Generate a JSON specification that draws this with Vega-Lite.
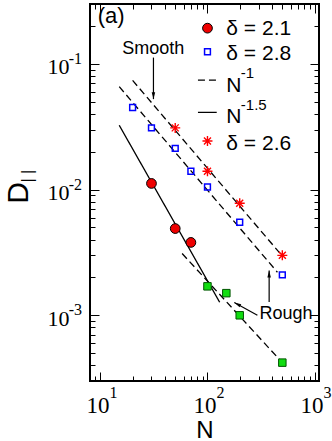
{
  "$schema": "https://vega.github.io/schema/vega-lite/v6.json",
  "width": 229,
  "height": 377,
  "autosize": {"type": "none"},
  "padding": {"left": 90, "top": 4, "right": 13, "bottom": 60},
  "background": "white",
  "config": {"view": {"stroke": "black", "strokeWidth": 2}},
  "datasets": {
    "fits": [
      {"id": "A", "kind": "dash", "N": 20, "D": 0.074},
      {"id": "A", "kind": "dash", "N": 500, "D": 0.00296},
      {"id": "B", "kind": "dash", "N": 15, "D": 0.066},
      {"id": "B", "kind": "dash", "N": 450, "D": 0.0022},
      {"id": "C", "kind": "dash", "N": 58, "D": 0.0031},
      {"id": "C", "kind": "dash", "N": 500, "D": 0.00042},
      {"id": "S", "kind": "solid", "N": 15, "D": 0.0325},
      {"id": "S", "kind": "solid", "N": 130, "D": 0.00127},
      {"id": "LA", "kind": "dash", "N": 81.5, "D": 0.0743},
      {"id": "LA", "kind": "dash", "N": 122, "D": 0.0743},
      {"id": "LS", "kind": "solid", "N": 81.5, "D": 0.0412},
      {"id": "LS", "kind": "solid", "N": 122, "D": 0.0412}
    ],
    "points": [
      {"N": 30, "D": 0.0112, "series": "d21"},
      {"N": 50, "D": 0.0049, "series": "d21"},
      {"N": 70, "D": 0.0038, "series": "d21"},
      {"N": 20, "D": 0.045, "series": "d28"},
      {"N": 30, "D": 0.031, "series": "d28"},
      {"N": 50, "D": 0.0213, "series": "d28"},
      {"N": 70, "D": 0.014, "series": "d28"},
      {"N": 100, "D": 0.0105, "series": "d28"},
      {"N": 200, "D": 0.0055, "series": "d28"},
      {"N": 500, "D": 0.0021, "series": "d28"},
      {"N": 50, "D": 0.031, "series": "d26"},
      {"N": 100, "D": 0.014, "series": "d26"},
      {"N": 200, "D": 0.0078, "series": "d26"},
      {"N": 500, "D": 0.003, "series": "d26"},
      {"N": 100, "D": 0.0017, "series": "rough"},
      {"N": 150, "D": 0.0015, "series": "rough"},
      {"N": 200, "D": 0.001, "series": "rough"},
      {"N": 500, "D": 0.00042, "series": "rough"},
      {"N": 100, "D": 0.1927, "series": "d21"},
      {"N": 100, "D": 0.125, "series": "d28"},
      {"N": 100, "D": 0.0244, "series": "d26"}
    ],
    "arrows": [
      {"dir": "down", "N": 31.3, "D": 0.1124, "N2": 31.3, "D2": 0.0525},
      {"dir": "upleft", "N": 292.5, "D": 0.001, "N2": 178, "D2": 0.001265},
      {"dir": "up", "N": 376.6, "D": 0.001274, "N2": 376.6, "D2": 0.002275}
    ]
  },
  "resolve": {"axis": {"x": "independent", "y": "independent"}},
  "layer": [
    {
      "data": {"name": "fits"},
      "mark": {"type": "line", "color": "black", "strokeWidth": 1.3},
      "encoding": {
        "x": {"field": "N", "type": "quantitative",
          "scale": {"type": "log", "domain": [8, 1100], "nice": false},
          "axis": {"orient": "bottom",
            "values": [8, 9, 10, 20, 30, 40, 50, 60, 70, 80, 90, 100, 200, 300, 400, 500, 600, 700, 800, 900, 1000],
            "labelExpr": "abs(log(datum.value)/LN10 - round(log(datum.value)/LN10)) < 0.001 ? '10' : ''",
            "tickSize": {"condition": {"test": "abs(log(datum.value)/LN10 - round(log(datum.value)/LN10)) < 0.001", "value": -9}, "value": -5},
            "tickColor": "black", "tickWidth": 1, "domain": false, "grid": false,
            "labelFont": "Liberation Serif", "labelFontSize": 23, "labelColor": "black",
            "labelPadding": 22, "labelOffset": -3, "labelFlush": false, "labelOverlap": false, "labelBound": false,
            "title": "N", "titleFont": "Liberation Sans", "titleFontSize": 24, "titleFontWeight": "normal",
            "titleColor": "black", "titlePadding": -3}},
        "y": {"field": "D", "type": "quantitative",
          "scale": {"type": "log", "domain": [0.0003, 0.3], "nice": false},
          "axis": {"orient": "left",
            "values": [0.0003, 0.0004, 0.0005, 0.0006, 0.0007, 0.0008, 0.0009, 0.001, 0.002, 0.003, 0.004, 0.005, 0.006, 0.007, 0.008, 0.009, 0.01, 0.02, 0.03, 0.04, 0.05, 0.06, 0.07, 0.08, 0.09, 0.1, 0.2, 0.3],
            "labelExpr": "abs(log(datum.value)/LN10 - round(log(datum.value)/LN10)) < 0.001 ? '10' : ''",
            "tickSize": {"condition": {"test": "abs(log(datum.value)/LN10 - round(log(datum.value)/LN10)) < 0.001", "value": -9}, "value": -5},
            "tickColor": "black", "tickWidth": 1, "domain": false, "grid": false,
            "labelFont": "Liberation Serif", "labelFontSize": 22, "labelColor": "black",
            "labelPadding": 30, "labelOffset": 3, "labelFlush": false, "labelOverlap": false, "labelBound": false,
            "title": "D", "titleFont": "Liberation Sans", "titleFontSize": 30, "titleFontWeight": "normal",
            "titleColor": "black", "titlePadding": 14}},
        "detail": {"field": "id", "type": "nominal"},
        "strokeDash": {"field": "kind", "type": "nominal",
          "scale": {"domain": ["dash", "solid"], "range": [[7, 4], [1, 0]]}, "legend": null}
      }
    },
    {
      "data": {"name": "points"},
      "transform": [{"filter": "datum.series == 'rough'"}],
      "mark": {"type": "point", "shape": "square", "filled": true, "fill": "#11dd11", "stroke": "#005500", "strokeWidth": 1, "size": 56, "opacity": 1},
      "encoding": {
        "x": {"field": "N", "type": "quantitative",
          "scale": {"type": "log", "domain": [8, 1100], "nice": false},
          "axis": {"orient": "top",
            "values": [8, 9, 10, 20, 30, 40, 50, 60, 70, 80, 90, 100, 200, 300, 400, 500, 600, 700, 800, 900, 1000],
            "labels": false, "title": null,
            "tickSize": {"condition": {"test": "abs(log(datum.value)/LN10 - round(log(datum.value)/LN10)) < 0.001", "value": -9}, "value": -5},
            "tickColor": "black", "tickWidth": 1, "domain": false, "grid": false}},
        "y": {"field": "D", "type": "quantitative",
          "scale": {"type": "log", "domain": [0.0003, 0.3], "nice": false},
          "axis": {"orient": "right",
            "values": [0.0003, 0.0004, 0.0005, 0.0006, 0.0007, 0.0008, 0.0009, 0.001, 0.002, 0.003, 0.004, 0.005, 0.006, 0.007, 0.008, 0.009, 0.01, 0.02, 0.03, 0.04, 0.05, 0.06, 0.07, 0.08, 0.09, 0.1, 0.2, 0.3],
            "labels": false, "title": null,
            "tickSize": {"condition": {"test": "abs(log(datum.value)/LN10 - round(log(datum.value)/LN10)) < 0.001", "value": -9}, "value": -5},
            "tickColor": "black", "tickWidth": 1, "domain": false, "grid": false}}
      }
    },
    {
      "data": {"name": "points"},
      "transform": [{"filter": "datum.series == 'd28'"}],
      "mark": {"type": "point", "shape": "square", "filled": false, "stroke": "#0000ff", "strokeWidth": 1.5, "size": 34, "opacity": 1},
      "encoding": {
        "x": {"field": "N", "type": "quantitative", "scale": {"type": "log", "domain": [8, 1100], "nice": false}, "axis": null},
        "y": {"field": "D", "type": "quantitative", "scale": {"type": "log", "domain": [0.0003, 0.3], "nice": false}, "axis": null}
      }
    },
    {
      "data": {"name": "points"},
      "transform": [{"filter": "datum.series == 'd21'"}],
      "mark": {"type": "point", "shape": "circle", "filled": true, "fill": "#ee0000", "stroke": "black", "strokeWidth": 1, "size": 95, "opacity": 1},
      "encoding": {
        "x": {"field": "N", "type": "quantitative", "scale": {"type": "log", "domain": [8, 1100], "nice": false}, "axis": null},
        "y": {"field": "D", "type": "quantitative", "scale": {"type": "log", "domain": [0.0003, 0.3], "nice": false}, "axis": null}
      }
    },
    {
      "data": {"name": "points"},
      "transform": [{"filter": "datum.series == 'd26'"}],
      "mark": {"type": "point", "shape": "M-1,0L1,0M0,-1L0,1M-0.7,-0.7L0.7,0.7M-0.7,0.7L0.7,-0.7", "filled": false, "stroke": "#ff0000", "strokeWidth": 1.4, "size": 100, "opacity": 1},
      "encoding": {
        "x": {"field": "N", "type": "quantitative", "scale": {"type": "log", "domain": [8, 1100], "nice": false}, "axis": null},
        "y": {"field": "D", "type": "quantitative", "scale": {"type": "log", "domain": [0.0003, 0.3], "nice": false}, "axis": null}
      }
    },
    {
      "data": {"name": "arrows"},
      "mark": {"type": "rule", "color": "black", "strokeWidth": 1.2},
      "encoding": {
        "x": {"field": "N", "type": "quantitative", "scale": {"type": "log", "domain": [8, 1100], "nice": false}, "axis": null},
        "y": {"field": "D", "type": "quantitative", "scale": {"type": "log", "domain": [0.0003, 0.3], "nice": false}, "axis": null},
        "x2": {"field": "N2"},
        "y2": {"field": "D2"}
      }
    },
    {
      "data": {"name": "arrows"},
      "transform": [{"filter": "datum.dir == 'down'"}],
      "mark": {"type": "point", "shape": "M0,0L-0.45,1.8L0.45,1.8Z", "filled": true, "color": "black", "size": 60, "angle": 180, "opacity": 1},
      "encoding": {
        "x": {"field": "N2", "type": "quantitative", "scale": {"type": "log", "domain": [8, 1100], "nice": false}, "axis": null},
        "y": {"field": "D2", "type": "quantitative", "scale": {"type": "log", "domain": [0.0003, 0.3], "nice": false}, "axis": null}
      }
    },
    {
      "data": {"name": "arrows"},
      "transform": [{"filter": "datum.dir == 'up'"}],
      "mark": {"type": "point", "shape": "M0,0L-0.45,1.8L0.45,1.8Z", "filled": true, "color": "black", "size": 60, "angle": 0, "opacity": 1},
      "encoding": {
        "x": {"field": "N2", "type": "quantitative", "scale": {"type": "log", "domain": [8, 1100], "nice": false}, "axis": null},
        "y": {"field": "D2", "type": "quantitative", "scale": {"type": "log", "domain": [0.0003, 0.3], "nice": false}, "axis": null}
      }
    },
    {
      "data": {"name": "arrows"},
      "transform": [{"filter": "datum.dir == 'upleft'"}],
      "mark": {"type": "point", "shape": "M0,0L-0.45,1.8L0.45,1.8Z", "filled": true, "color": "black", "size": 60, "angle": 299, "opacity": 1},
      "encoding": {
        "x": {"field": "N2", "type": "quantitative", "scale": {"type": "log", "domain": [8, 1100], "nice": false}, "axis": null},
        "y": {"field": "D2", "type": "quantitative", "scale": {"type": "log", "domain": [0.0003, 0.3], "nice": false}, "axis": null}
      }
    },
    {
      "data": {"values": [{"N": 9.44, "D": 0.21, "t": "(a)"}]},
      "mark": {"type": "text", "font": "Liberation Sans", "fontSize": 22, "align": "left", "baseline": "alphabetic", "color": "black"},
      "encoding": {
        "x": {"field": "N", "type": "quantitative", "scale": {"type": "log", "domain": [8, 1100], "nice": false}, "axis": null},
        "y": {"field": "D", "type": "quantitative", "scale": {"type": "log", "domain": [0.0003, 0.3], "nice": false}, "axis": null},
        "text": {"field": "t"}
      }
    },
    {
      "data": {"values": [{"N": 31.2, "D": 0.1205, "t": "Smooth"}]},
      "mark": {"type": "text", "font": "Liberation Sans", "fontSize": 18, "align": "center", "baseline": "alphabetic", "color": "black"},
      "encoding": {
        "x": {"field": "N", "type": "quantitative", "scale": {"type": "log", "domain": [8, 1100], "nice": false}, "axis": null},
        "y": {"field": "D", "type": "quantitative", "scale": {"type": "log", "domain": [0.0003, 0.3], "nice": false}, "axis": null},
        "text": {"field": "t"}
      }
    },
    {
      "data": {"values": [{"N": 305.6, "D": 0.000929, "t": "Rough"}]},
      "mark": {"type": "text", "font": "Liberation Sans", "fontSize": 18, "align": "left", "baseline": "alphabetic", "color": "black"},
      "encoding": {
        "x": {"field": "N", "type": "quantitative", "scale": {"type": "log", "domain": [8, 1100], "nice": false}, "axis": null},
        "y": {"field": "D", "type": "quantitative", "scale": {"type": "log", "domain": [0.0003, 0.3], "nice": false}, "axis": null},
        "text": {"field": "t"}
      }
    },
    {
      "data": {"values": [
        {"N": 150, "D": 0.17, "t": "δ = 2.1"},
        {"N": 150, "D": 0.1077, "t": "δ = 2.8"},
        {"N": 150, "D": 0.0594, "t": "N"},
        {"N": 150, "D": 0.0337, "t": "N"},
        {"N": 150, "D": 0.0205, "t": "δ = 2.6"}
      ]},
      "mark": {"type": "text", "font": "Liberation Sans", "fontSize": 21, "align": "left", "baseline": "alphabetic", "color": "black"},
      "encoding": {
        "x": {"field": "N", "type": "quantitative", "scale": {"type": "log", "domain": [8, 1100], "nice": false}, "axis": null},
        "y": {"field": "D", "type": "quantitative", "scale": {"type": "log", "domain": [0.0003, 0.3], "nice": false}, "axis": null},
        "text": {"field": "t"}
      }
    },
    {
      "data": {"values": [
        {"N": 205, "D": 0.0776, "t": "-1"},
        {"N": 205, "D": 0.0434, "t": "-1.5"}
      ]},
      "mark": {"type": "text", "font": "Liberation Sans", "fontSize": 15, "align": "left", "baseline": "alphabetic", "color": "black"},
      "encoding": {
        "x": {"field": "N", "type": "quantitative", "scale": {"type": "log", "domain": [8, 1100], "nice": false}, "axis": null},
        "y": {"field": "D", "type": "quantitative", "scale": {"type": "log", "domain": [0.0003, 0.3], "nice": false}, "axis": null},
        "text": {"field": "t"}
      }
    },
    {
      "data": {"values": [{"N": 10, "t": "1"}, {"N": 100, "t": "2"}, {"N": 1000, "t": "3"}]},
      "mark": {"type": "text", "font": "Liberation Serif", "fontSize": 16, "align": "left", "baseline": "alphabetic", "color": "black", "dx": 9, "dy": 16.5},
      "encoding": {
        "x": {"field": "N", "type": "quantitative", "scale": {"type": "log", "domain": [8, 1100], "nice": false}, "axis": null},
        "y": {"datum": 0.0003, "type": "quantitative", "scale": {"type": "log", "domain": [0.0003, 0.3], "nice": false}, "axis": null},
        "text": {"field": "t"}
      }
    },
    {
      "data": {"values": [{"D": 0.1, "t": "-1"}, {"D": 0.01, "t": "-2"}, {"D": 0.001, "t": "-3"}]},
      "mark": {"type": "text", "font": "Liberation Serif", "fontSize": 16, "align": "right", "baseline": "alphabetic", "color": "black", "dx": -8, "dy": 0},
      "encoding": {
        "x": {"datum": 8, "type": "quantitative", "scale": {"type": "log", "domain": [8, 1100], "nice": false}, "axis": null},
        "y": {"field": "D", "type": "quantitative", "scale": {"type": "log", "domain": [0.0003, 0.3], "nice": false}, "axis": null},
        "text": {"field": "t"}
      }
    },
    {
      "data": {"values": [{"N": 2.1, "D": 0.0128, "t": "| |"}]},
      "mark": {"type": "text", "font": "Liberation Sans", "fontSize": 16, "align": "center", "baseline": "middle", "angle": 270, "color": "black"},
      "encoding": {
        "x": {"field": "N", "type": "quantitative", "scale": {"type": "log", "domain": [8, 1100], "nice": false}, "axis": null},
        "y": {"field": "D", "type": "quantitative", "scale": {"type": "log", "domain": [0.0003, 0.3], "nice": false}, "axis": null},
        "text": {"field": "t"}
      }
    }
  ]
}
